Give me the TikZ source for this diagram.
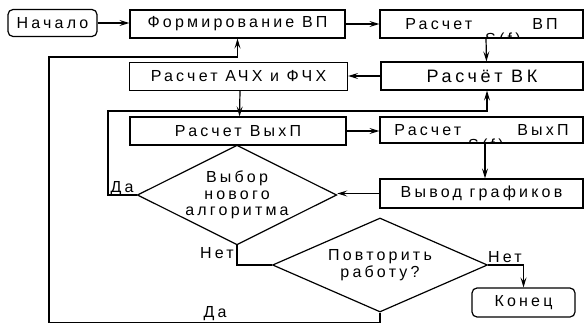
\documentclass[tikz,border=0pt]{standalone}
\usepackage{fontspec}
\setmainfont{Liberation Sans}[LetterSpace=20]
\usetikzlibrary{arrows.meta,shapes.geometric}
\begin{document}
\begin{tikzpicture}[x=1pt,y=-1pt,
  every node/.style={font=\fontsize{16}{16.5}\selectfont},
  box/.style={draw,line width=1.2pt,inner sep=0pt,rectangle,minimum width=#1,minimum height=28pt},
  rbox/.style={draw,line width=1.2pt,inner sep=0pt,rectangle,rounded corners=5pt,minimum width=#1,minimum height=27pt},
  dia/.style={draw,line width=1.2pt,diamond,aspect=2,inner sep=0pt,align=center},
  ln/.style={line width=1.2pt},
  arr/.style={line width=1.2pt,-{Stealth[length=10pt,width=6pt,inset=4pt]}},
  lab/.style={inner sep=0pt}]
\useasboundingbox (0,0) rectangle (585,324);
% boxes
\node[rbox=89pt] (start) at (52.5,23) {Начало};
\node[box=215pt] (form) at (237.5,24) {Формирование ВП};
\node[box=203pt] (vp) at (481.5,24) {Расчет\hspace{60pt}ВП};
\node[box=202pt,font=\fontsize{18}{18}\selectfont] (vk) at (482,76) {Расчёт ВК};
\node[box=218pt] (ach) at (238.5,76.5) {Расчет АЧХ и ФЧХ};
\node[box=216pt] (vyhL) at (238,131) {Расчет\hspace{8pt}ВыхП};
\node[box=203pt,minimum height=26pt] (vyhR) at (481.5,130) {Расчет\hspace{56pt}ВыхП};
\node[box=203pt,minimum height=29pt] (graf) at (481.5,193.5) {Вывод графиков};
\node[dia,minimum width=197pt,minimum height=95pt] (d1) at (237,195) {Выбор\\нового\\алгоритма};
\node[dia,minimum width=215pt,minimum height=94pt] (d2) at (380,265) {Повторить\\работу?};
\node[rbox=103pt,minimum height=29pt] (end) at (523.5,302.5) {Конец};
% clipped fragments of S(f)
\begin{scope}
\clip (470,32) rectangle (540,38);
\node[lab,anchor=north west] (sf1) at (485,32.5) {S(f)};
\end{scope}
\begin{scope}
\clip (460,138) rectangle (520,143);
\node[lab,anchor=north west] (sf2) at (468,138.5) {S(f)};
\end{scope}
% coordinates
\coordinate (cA) at (108,111);
\coordinate (cB) at (49,322.5);
\coordinate (cC) at (49,57);
% connectors
\draw[arr] (start.east) -- (start.east -| form.west);
\draw[arr] (form.east) -- (vp.west);
\draw[arr] ([xshift=4.5pt]vp.south) -- ([xshift=4.5pt]vk.north);
\draw[arr] (vk.west) -- (vk.west -| ach.east);
\draw[arr] ([xshift=1.5pt]ach.south) -- ([xshift=1.5pt]vyhL.north);
\draw[arr] (d1.west) -| (cA) -| ([xshift=5pt]vk.south);
\draw[arr] (vyhL.east) -- (vyhL.east -| vyhR.west);
\draw[arr] ([xshift=3.5pt]vyhR.south) -- ([xshift=3.5pt]graf.north);
\draw[arr] (graf.west) -- (graf.west -| d1.east);
\draw[ln] (d1.south) |- (d2.west);
\draw[arr] (d2.east) -| (end.north);
\draw[arr] (d2.south) |- (cB) -- (cC) -| (form.south);
% labels
\node[lab] (lda1) at (122,189) {Да};
\node[lab] (lnet1) at (217,253) {Нет};
\node[lab] (lnet2) at (505,257) {Нет};
\node[lab] (lda2) at (215,314) {Да};
\end{tikzpicture}
\end{document}
